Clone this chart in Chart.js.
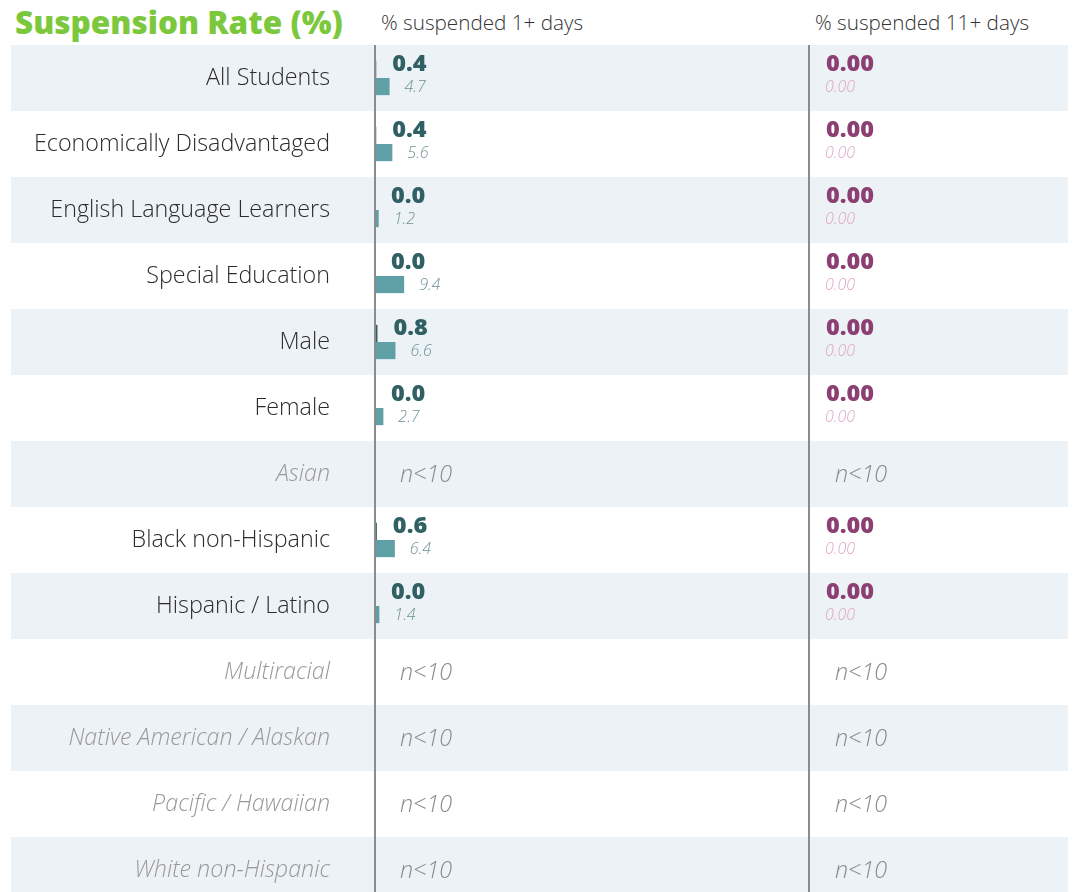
<!DOCTYPE html>
<html>
<head>
<meta charset="utf-8">
<script src="https://cdn.jsdelivr.net/npm/chart.js@4.4.1/dist/chart.umd.min.js"></script>
<style>
  html, body { margin: 0; padding: 0; background: #fff; }
  body { width: 1075px; height: 892px; position: relative; overflow: hidden; font-family: 'Open Sans', sans-serif; }
  .title { position: absolute; left: 15px; top: 0px; font-size: 31.5px; font-weight: 800; color: #7cc83d; line-height: 44px; }
  .head { position: absolute; top: 0px; font-size: 20.7px; font-weight: 300; color: #333; line-height: 44px; }
  .box { position: absolute; top: 45px; height: 858px; }
</style>
</head>
<body>
<div class="title">Suspension Rate (%)</div>
<div class="head" style="left:381px">% suspended 1+ days</div>
<div class="head" style="left:815px">% suspended 11+ days</div>
<div class="box" style="left:0; width:809px"><canvas id="left"></canvas></div>
<div class="box" style="left:808px; width:267px"><canvas id="right"></canvas></div>
<script>
const groups = ['All Students', 'Economically Disadvantaged', 'English Language Learners', 'Special Education',
  'Male', 'Female', 'Asian', 'Black non-Hispanic', 'Hispanic / Latino', 'Multiracial',
  'Native American / Alaskan', 'Pacific / Hawaiian', 'White non-Hispanic'];
// school value / comparison value, null = n<10
const school1 = [0.4, 0.4, 0.0, 0.0, 0.8, 0.0, null, 0.6, 0.0, null, null, null, null];
const compare1 = [4.7, 5.6, 1.2, 9.4, 6.6, 2.7, null, 6.4, 1.4, null, null, null, null];
const school11 = [0.00, 0.00, 0.00, 0.00, 0.00, 0.00, null, 0.00, 0.00, null, null, null, null];
const compare11 = [0.00, 0.00, 0.00, 0.00, 0.00, 0.00, null, 0.00, 0.00, null, null, null, null];

Chart.defaults.font.family = "'Open Sans', sans-serif";

// row bands, axis line and value labels
const tablePlugin = {
  id: 'table',
  beforeDraw(chart, args, opts) {
    const c = chart.ctx, y = chart.scales.y, a = chart.chartArea;
    const h = (a.bottom - a.top) / groups.length;
    c.save();
    c.fillStyle = '#edf2f6';
    groups.forEach((g, i) => {
      if (i % 2 == 0) {
        const cy = y.getPixelForValue(i);
        c.fillRect(opts.bandLeft, cy - h / 2, opts.bandRight - opts.bandLeft, h);
      }
    });
    c.restore();
  },
  afterDatasetsDraw(chart, args, opts) {
    const c = chart.ctx, y = chart.scales.y, a = chart.chartArea;
    c.save();
    c.strokeStyle = '#8c8c8c';
    c.lineWidth = 2;
    c.beginPath();
    c.moveTo(opts.lineX, 0);
    c.lineTo(opts.lineX, a.bottom);
    c.stroke();
    const main = chart.getDatasetMeta(0).data;
    const comp = chart.getDatasetMeta(1).data;
    const vals = chart.data.datasets[0].data;
    const cvals = chart.data.datasets[1].data;
    c.textBaseline = 'middle';
    c.textAlign = 'left';
    groups.forEach((g, i) => {
      const cy = y.getPixelForValue(i);
      if (vals[i] === null) {
        c.font = "italic 300 23.3px 'Open Sans'";
        c.fillStyle = '#8a8a8a';
        c.fillText('n<10', a.left + opts.nOffset, cy + 1);
        return;
      }
      c.font = "800 23.5px 'Open Sans'";
      c.fillStyle = opts.boldColor;
      c.fillText(vals[i].toFixed(opts.digits), main[i].x + opts.boldOff, cy - 14);
      c.font = "italic 300 16px 'Open Sans'";
      c.fillStyle = opts.smallColor;
      c.fillText(cvals[i].toFixed(opts.digits), comp[i].x + opts.smallOff, cy + 9);
    });
    c.restore();
  }
};

function makeChart(id, school, compare, max, showLabels, tableOpts) {
  return new Chart(document.getElementById(id), {
    type: 'bar',
    data: {
      labels: groups,
      datasets: [
        { data: school, backgroundColor: tableOpts.darkBar, barPercentage: 1, categoryPercentage: 0.52 },
        { data: compare, backgroundColor: '#5f9fa6', barPercentage: 1, categoryPercentage: 0.52 }
      ]
    },
    options: {
      indexAxis: 'y',
      responsive: true,
      maintainAspectRatio: false,
      animation: false,
      layout: { padding: 0 },
      plugins: { legend: { display: false }, tooltip: { enabled: false }, table: tableOpts },
      scales: {
        x: { min: 0, max: max, display: false },
        y: {
          display: showLabels,
          grid: { display: false },
          border: { display: false },
          afterFit: (s) => {
            if (showLabels) s.width = 375;
            s.paddingTop = 0;
            s.paddingBottom = 0;
          },
          ticks: {
            autoSkip: false,
            padding: 37,
            color: (ctx) => school[ctx.index] === null ? '#999' : '#2b2b2b',
            font: (ctx) => school[ctx.index] === null
              ? { size: 23.3, weight: 300, style: 'italic' }
              : { size: 23.3, weight: 300 }
          }
        }
      }
    },
    plugins: [tablePlugin]
  });
}

makeChart('left', school1, compare1, 140, true,
  { bandLeft: 11, bandRight: 809, lineX: 375, nOffset: 25, digits: 1, boldOff: 16, smallOff: 15,
    boldColor: '#305f64', smallColor: '#6d9295', darkBar: '#305f64' });
makeChart('right', school11, compare11, 86, false,
  { bandLeft: 0, bandRight: 260, lineX: 1, nOffset: 27, digits: 2, boldOff: 18, smallOff: 17,
    boldColor: '#8b3f72', smallColor: '#dea6c5', darkBar: '#8b3f72' });
</script>
</body>
</html>
